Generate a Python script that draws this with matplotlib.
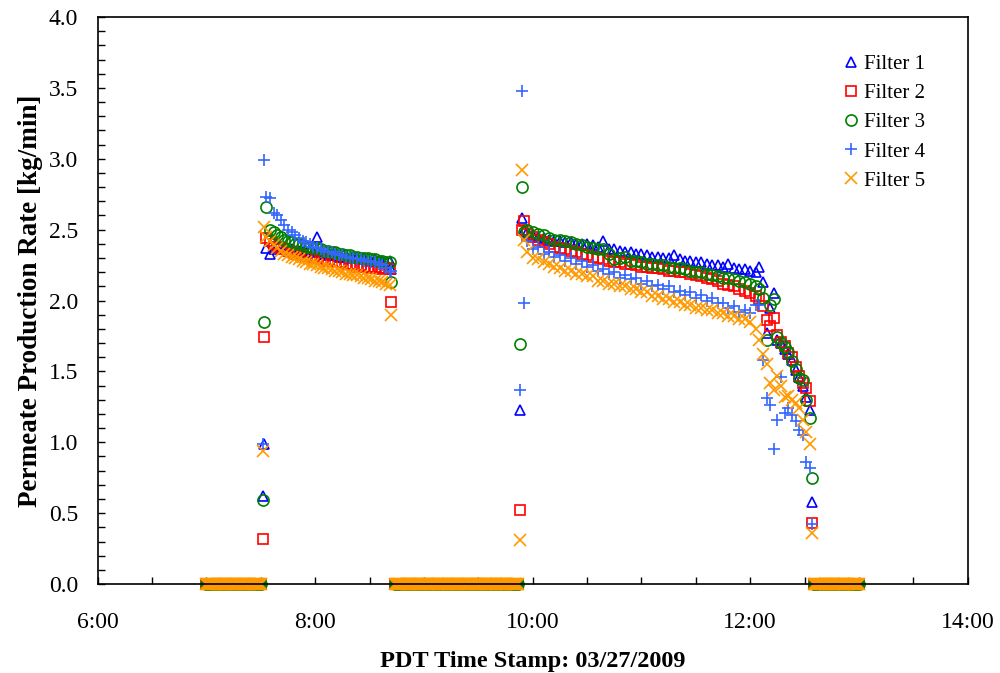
"""Permeate production rate of the five filters, 03/27/2009 run."""

import numpy as np
import matplotlib
matplotlib.use("Agg")
import matplotlib.pyplot as plt
from matplotlib.ticker import MultipleLocator, FuncFormatter

plt.rcParams.update({
    "font.family": ["Liberation Serif", "DejaVu Serif"],
    "font.size": 17,
})


def hours(t):
    h, m = t.split(":")
    return int(h) + int(m) / 60


def logged(start, stop, step):
    """Logger sample times (hours) from start to stop, every `step` minutes."""
    a, b = hours(start) * 60, hours(stop) * 60
    return list(np.arange(a, b + step / 2, step) / 60)


# --- idle periods: every filter logs 0 kg/min, a sample every 30 s ---
IDLE = [("7:00", "7:30"), ("8:44", "9:52"), ("12:35", "13:00")]

# --- run 1: 7:31 - 8:42 ---
RUN1_T = ([hours(t) for t in ["7:31", "7:32", "7:33"]]
          + logged("7:35", "8:41", 2) + [hours("8:42")])

RUN1 = {
    "Filter 1": [0.62, 0.99, 2.37,
                 2.33, 2.36, 2.38, 2.37, 2.37, 2.36, 2.36, 2.35, 2.35, 2.34,
                 2.34, 2.35, 2.34, 2.45, 2.33, 2.33, 2.32, 2.33, 2.32, 2.31,
                 2.31, 2.31, 2.30, 2.30, 2.30, 2.29, 2.29, 2.29, 2.28, 2.29,
                 2.28, 2.28, 2.27, 2.28,
                 2.22],
    "Filter 2": [0.32, 1.74, 2.44,
                 2.42, 2.40, 2.38, 2.37, 2.36, 2.35, 2.34, 2.33, 2.33, 2.32,
                 2.31, 2.31, 2.30, 2.30, 2.29, 2.29, 2.28, 2.28, 2.27, 2.27,
                 2.27, 2.26, 2.26, 2.25, 2.24, 2.25, 2.24, 2.24, 2.23, 2.24,
                 2.23, 2.22, 2.23, 2.22,
                 1.99],
    "Filter 3": [0.59, 1.85, 2.66,
                 2.50, 2.48, 2.46, 2.45, 2.43, 2.42, 2.41, 2.40, 2.40, 2.39,
                 2.38, 2.38, 2.37, 2.37, 2.36, 2.35, 2.35, 2.34, 2.34, 2.33,
                 2.33, 2.32, 2.32, 2.31, 2.31, 2.30, 2.30, 2.30, 2.29, 2.29,
                 2.28, 2.28, 2.27, 2.27,
                 2.13],
    "Filter 4": [0.99, 2.99, 2.73,
                 2.72, 2.62, 2.60, 2.57, 2.53, 2.50, 2.48, 2.46, 2.44, 2.42,
                 2.41, 2.40, 2.38, 2.37, 2.36, 2.35, 2.34, 2.34, 2.33, 2.32,
                 2.32, 2.31, 2.30, 2.30, 2.29, 2.29, 2.28, 2.28, 2.27, 2.27,
                 2.26, 2.25, 2.23, 2.20,
                 2.21],
    "Filter 5": [0.94, 2.52, 2.45,
                 2.42, 2.39, 2.37, 2.35, 2.33, 2.32, 2.31, 2.30, 2.29, 2.28,
                 2.27, 2.26, 2.26, 2.25, 2.24, 2.23, 2.23, 2.22, 2.21, 2.21,
                 2.20, 2.19, 2.19, 2.18, 2.18, 2.17, 2.16, 2.16, 2.15, 2.14,
                 2.14, 2.13, 2.12, 2.11,
                 1.90],
}

# --- run 2: 9:53 - 12:34 ---
RUN2_T = ([hours(t) for t in ["9:53", "9:54", "9:55"]]
          + logged("9:57", "12:03", 3) + logged("12:05", "12:33", 2)
          + [hours("12:34")])

RUN2 = {
    "Filter 1": [1.23, 2.58, 2.50,
                 2.48, 2.46, 2.45, 2.44, 2.43, 2.42, 2.42, 2.41, 2.41, 2.40,
                 2.40, 2.40, 2.39, 2.38, 2.42, 2.36, 2.36, 2.35, 2.34, 2.34,
                 2.33, 2.33, 2.32, 2.31, 2.31, 2.30, 2.30, 2.32, 2.29, 2.28,
                 2.28, 2.27, 2.27, 2.26, 2.25, 2.25, 2.24, 2.26, 2.23, 2.22,
                 2.22, 2.21, 2.20,
                 2.24, 2.13, 1.77, 1.95, 2.05, 1.72, 1.70, 1.66, 1.62, 1.58,
                 1.51, 1.46, 1.40, 1.32, 1.23,
                 0.58],
    "Filter 2": [0.52, 2.50, 2.56,
                 2.47, 2.45, 2.43, 2.41, 2.40, 2.38, 2.37, 2.36, 2.35, 2.34,
                 2.33, 2.32, 2.31, 2.30, 2.29, 2.28, 2.27, 2.27, 2.26, 2.26,
                 2.25, 2.24, 2.24, 2.23, 2.23, 2.22, 2.21, 2.21, 2.20, 2.20,
                 2.19, 2.18, 2.17, 2.16, 2.15, 2.14, 2.12, 2.11, 2.10, 2.08,
                 2.07, 2.05, 2.03,
                 2.01, 1.96, 1.86, 1.82, 1.88, 1.76, 1.71, 1.68, 1.63, 1.60,
                 1.53, 1.47, 1.42, 1.38, 1.29,
                 0.43],
    "Filter 3": [1.69, 2.80, 2.48,
                 2.50, 2.48, 2.47, 2.46, 2.44, 2.43, 2.43, 2.42, 2.41, 2.40,
                 2.39, 2.38, 2.37, 2.36, 2.36, 2.33, 2.29, 2.30, 2.31, 2.28,
                 2.28, 2.27, 2.26, 2.26, 2.25, 2.25, 2.24, 2.23, 2.23, 2.22,
                 2.21, 2.20, 2.20, 2.19, 2.18, 2.17, 2.16, 2.16, 2.15, 2.14,
                 2.13, 2.12, 2.10,
                 2.08, 2.02, 1.72, 1.97, 2.01, 1.74, 1.70, 1.67, 1.64, 1.57,
                 1.52, 1.45, 1.44, 1.30, 1.17,
                 0.75],
    "Filter 4": [1.37, 3.48, 1.98,
                 2.42, 2.36, 2.38, 2.33, 2.34, 2.31, 2.32, 2.28, 2.30, 2.26,
                 2.28, 2.24, 2.25, 2.21, 2.22, 2.19, 2.20, 2.16, 2.18, 2.15,
                 2.16, 2.12, 2.14, 2.10, 2.11, 2.08, 2.10, 2.06, 2.07, 2.04,
                 2.06, 2.02, 2.04, 2.00, 2.02, 1.98, 1.98, 1.95, 1.96, 1.92,
                 1.93, 1.91, 1.97,
                 1.97, 1.58, 1.31, 1.26, 0.95, 1.16, 1.46, 1.21, 1.24, 1.19,
                 1.15, 1.09, 1.05, 0.86, 0.82,
                 0.42],
    "Filter 5": [0.31, 2.92, 2.43,
                 2.34, 2.30, 2.29, 2.27, 2.26, 2.24, 2.23, 2.21, 2.21, 2.19,
                 2.19, 2.17, 2.17, 2.14, 2.14, 2.12, 2.12, 2.10, 2.10, 2.08,
                 2.08, 2.06, 2.06, 2.03, 2.03, 2.01, 2.01, 1.99, 1.99, 1.97,
                 1.97, 1.95, 1.95, 1.93, 1.93, 1.91, 1.91, 1.89, 1.89, 1.87,
                 1.87, 1.85, 1.80,
                 1.72, 1.62, 1.55, 1.42, 1.37, 1.47, 1.40, 1.32, 1.33, 1.30,
                 1.28, 1.24, 1.16, 1.07, 0.99,
                 0.36],
}

STYLE = {
    "Filter 1": dict(marker="^", mfc="none", mec="#0000FF", ms=7.5, mew=1.2),
    "Filter 2": dict(marker="s", mfc="none", mec="#FF0000", ms=7, mew=1.2),
    "Filter 3": dict(marker="o", mfc="none", mec="#008000", ms=8, mew=1.2),
    "Filter 4": dict(marker="+", color="#3366FF", ms=9, mew=1.2),
    "Filter 5": dict(marker="x", color="#FF9900", ms=8, mew=1.2),
}


def main():
    idle_t = [t for a, b in IDLE for t in logged(a, b, 0.5)]

    fig = plt.figure(figsize=(10, 6.73), dpi=100)
    ax = fig.add_axes([0.0977, 0.1322, 0.87, 0.8425])

    for name, st in STYLE.items():
        x = idle_t + RUN1_T + RUN2_T
        y = [0.0] * len(idle_t) + RUN1[name] + RUN2[name]
        ax.plot(x, y, ls="none", label=name, clip_on=False, **st)

    ax.set_xlim(6, 14)
    ax.set_ylim(0, 4)
    ax.xaxis.set_major_locator(MultipleLocator(2))
    ax.xaxis.set_minor_locator(MultipleLocator(0.5))
    ax.xaxis.set_major_formatter(FuncFormatter(lambda v, _: f"{int(v)}:00"))
    ax.yaxis.set_major_locator(MultipleLocator(0.5))
    ax.yaxis.set_minor_locator(MultipleLocator(0.1))
    ax.yaxis.set_major_formatter(FuncFormatter(lambda v, _: f"{v:.1f}"))
    ax.tick_params(which="both", direction="in", length=5, width=1,
                   top=False, right=False)
    ax.tick_params(axis="y", which="both", pad=14)
    ax.tick_params(axis="x", which="both", pad=20)
    for sp in ax.spines.values():
        sp.set_linewidth(1.2)

    ax.set_ylabel("Permeate Production Rate [kg/min]", fontsize=19.5,
                  fontweight="bold", labelpad=4)
    ax.set_xlabel("PDT Time Stamp: 03/27/2009", fontsize=17.5,
                  fontweight="bold", labelpad=13)

    ax.legend(loc="upper left", bbox_to_anchor=(0.843, 0.919),
              bbox_transform=fig.transFigure, frameon=False, fontsize=15,
              handlelength=0.8, handletextpad=0.2, labelspacing=0.46,
              borderpad=0, borderaxespad=0)

    fig.savefig("out.png", dpi=100)
    plt.close(fig)


if __name__ == "__main__":
    main()
